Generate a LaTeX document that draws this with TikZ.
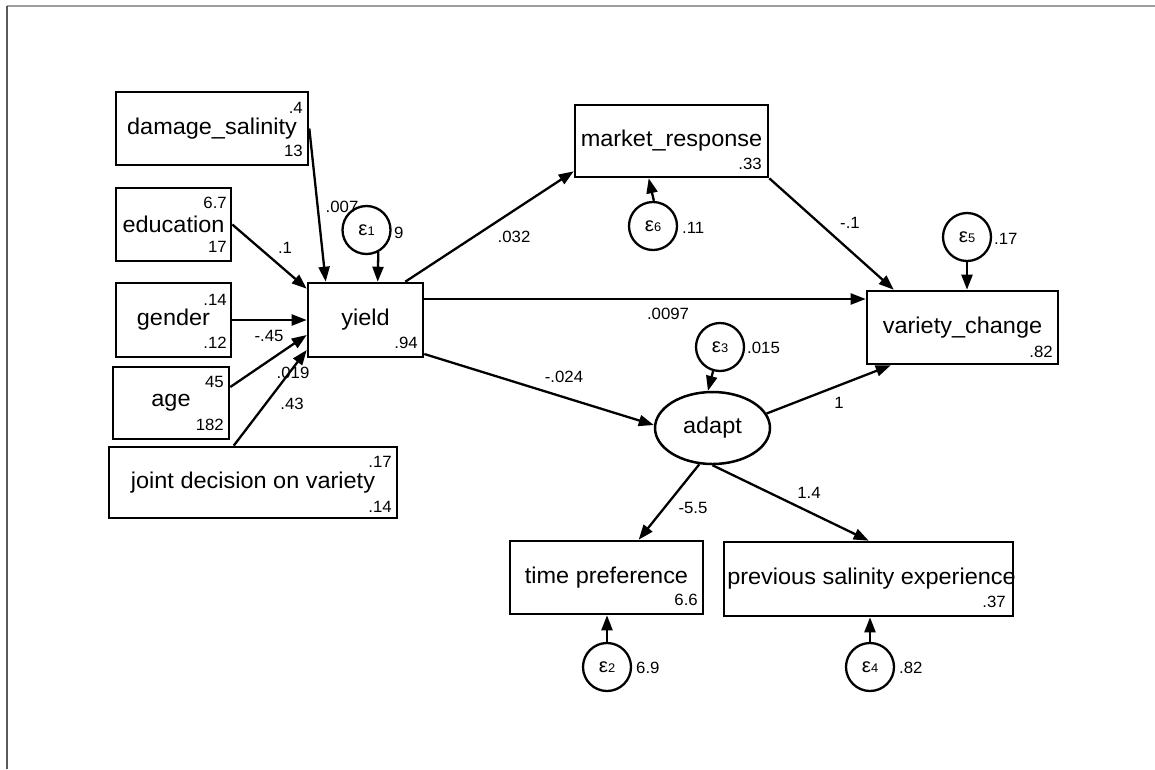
\documentclass[tikz,border=0pt]{standalone}
\usepackage{fontspec}
\setmainfont{Liberation Sans}[FakeStretch=1.03]
\usetikzlibrary{arrows.meta,shapes.geometric,calc}

% font sizes
\newcommand{\mainsz}{\fontsize{22.8}{25}\selectfont}
\newcommand{\numsz}{\fontsize{16.3}{18}\selectfont}
% error-term label: epsilon with a small index
\newcommand{\errlbl}[1]{\raisebox{-3pt}{{\fontsize{20}{20}\selectfont ε}{\fontsize{12.5}{13}\selectfont #1}}}
\newcommand{\boxtxt}[1]{\makebox[0pt][c]{#1}}

\tikzset{
  obsbox/.style={draw, rectangle, line width=2.6pt, inner sep=0pt, font=\mainsz},
  latent/.style={draw, ellipse, line width=2.5pt, inner sep=0pt, font=\mainsz},
  errc/.style={draw, circle, line width=2.3pt, minimum size=48pt, inner sep=0pt},
  num/.style={inner sep=0pt, font=\numsz},
  conn/.style={line width=2.3pt, -{Triangle[length=15pt,width=11pt]}},
}

\begin{document}
\begin{tikzpicture}[x=1pt, y=-1pt]
\useasboundingbox (0,0) rectangle (1155,769);

% frame lines at the top and on the left
\draw[line width=1.5pt, black!38] (7,6) -- (1155,6);
\draw[line width=1.5pt, black!65] (7,6) -- (7,769);

% observed variables
\node[obsbox, minimum width=192pt, minimum height=73pt] (ds)  at (212,128.5)   {\boxtxt{damage\_salinity}};
\node[obsbox, minimum width=115pt, minimum height=73pt] (edu) at (173.5,224.5) {\boxtxt{education}};
\node[obsbox, minimum width=115pt, minimum height=74pt] (gen) at (173.5,320)   {\boxtxt{gender}};
\node[obsbox, minimum width=116pt, minimum height=72pt] (age) at (171,403)     {\boxtxt{age}};
\node[obsbox, minimum width=288pt, minimum height=71pt] (jd)  at (253,482.5)   {\boxtxt{joint decision on variety}};
\node[obsbox, minimum width=115pt, minimum height=74pt] (yld) at (365.5,320)   {\boxtxt{yield}};
\node[obsbox, minimum width=193pt, minimum height=72pt] (mr)  at (671.5,141)   {\boxtxt{\raisebox{-3pt}{market\_response}}};
\node[obsbox, minimum width=191pt, minimum height=73pt] (vc)  at (962.5,327.5) {\boxtxt{\raisebox{-2pt}{variety\_change}}};
\node[obsbox, minimum width=193pt, minimum height=73pt] (tp)  at (606.5,577.5) {\boxtxt{time preference}};
\node[obsbox, minimum width=289pt, minimum height=74pt] (pse) at (868.5,579)   {\boxtxt{\hspace{6pt}previous salinity experience}};

% latent variable
\node[latent, minimum width=115pt, minimum height=72pt] (ad) at (712.5,428) {adapt};

% error terms
\node[errc] (e1) at (366.5,230) {\errlbl{1}};
\node[errc] (e6) at (653,226)   {\errlbl{6}};
\node[errc] (e5) at (967,237)   {\errlbl{5}};
\node[errc] (e3) at (720,347)   {\errlbl{3}};
\node[errc] (e2) at (607,667)   {\errlbl{2}};
\node[errc] (e4) at (870,667)   {\errlbl{4}};

% means and intercepts inside the boxes
\node[num, anchor=east] (ds-a)  at (303,108) {.4};
\node[num, anchor=east] (ds-b)  at (303,151) {13};
\node[num, anchor=east] (edu-a) at (227,203) {6.7};
\node[num, anchor=east] (edu-b) at (227,247) {17};
\node[num, anchor=east] (gen-a) at (227,300) {.14};
\node[num, anchor=east] (gen-b) at (227,343) {.12};
\node[num, anchor=east] (age-a) at (224,382) {45};
\node[num, anchor=east] (age-b) at (224,425) {182};
\node[num, anchor=east] (jd-a)  at (392,462) {.17};
\node[num, anchor=east] (jd-b)  at (392,507) {.14};
\node[num, anchor=east] (yld-b) at (418,343) {.94};
\node[num, anchor=east] (mr-b)  at (762,164) {.33};
\node[num, anchor=east] (vc-b)  at (1053,352) {.82};
\node[num, anchor=east] (tp-b)  at (698,600) {6.6};
\node[num, anchor=east] (pse-b) at (1006,602) {.37};

% error variances
\node[num, anchor=west] (e1-v) at (394,233)  {9};
\node[num, anchor=west] (e6-v) at (682,228)  {.11};
\node[num, anchor=west] (e5-v) at (994,239)  {.17};
\node[num, anchor=west] (e3-v) at (747,348)  {.015};
\node[num, anchor=west] (e2-v) at (636,668)  {6.9};
\node[num, anchor=west] (e4-v) at (899,668)  {.82};

% paths into yield
\draw[conn] (ds.east) -- ([xshift=19pt]yld.north west);
\draw[conn] (edu.east) -- ([yshift=-7pt]yld.north west);
\draw[conn] (gen.east) -- (gen.east -| yld.west);
\draw[conn] ([yshift=16pt]age.east) -- ([yshift=-15pt]yld.west);
\draw[conn] ([xshift=126pt]jd.north west) -- ([yshift=-30pt]yld.west);
\draw[conn] (e1.-62) -- ([xshift=71pt]yld.north west);

% paths out of yield
\draw[conn] ([xshift=-19pt]yld.north east) -- ([yshift=7pt]mr.south west);
\coordinate (yv) at ([yshift=21pt]yld.east);
\draw[conn] (yv) -- (yv -| vc.west);
\draw[conn] ([yshift=-34pt]yld.east) -- ([yshift=3pt]ad.west);

% market response and variety change
\draw[conn] (e6.88) -- ([xshift=75pt]mr.south west);
\draw[conn] (mr.south east) -- ([xshift=28pt]vc.north west);
\draw[conn] (e5.south) -- (e5.south |- vc.north);

% adapt and its indicators
\draw[conn] (e3.-106) -- (ad.97);
\draw[conn] (ad.15) -- ([xshift=25pt]vc.south west);
\draw[conn] (ad.-110) -- ([xshift=130pt]tp.north west);
\draw[conn] (ad.south) -- ([xshift=146pt]pse.north west);
\draw[conn] (e2.north) -- (e2.north |- tp.south);
\draw[conn] (e4.north) -- (e4.north |- pse.south);

% path coefficients
\node[num] (c-ds)  at (342,207) {.007};
\node[num] (c-edu) at (285,248) {.1};
\node[num] (c-gen) at (269,336) {-.45};
\node[num] (c-age) at (293,373) {.019};
\node[num] (c-jd)  at (292,404) {.43};
\node[num] (c-mr)  at (514,237) {.032};
\node[num] (c-vc)  at (668,314) {.0097};
\node[num] (c-mv)  at (850,223) {-.1};
\node[num] (c-ad)  at (564,377) {-.024};
\node[num] (c-av)  at (839,403) {1};
\node[num] (c-tp)  at (693,508) {-5.5};
\node[num] (c-ps)  at (809,493) {1.4};
\end{tikzpicture}
\end{document}
